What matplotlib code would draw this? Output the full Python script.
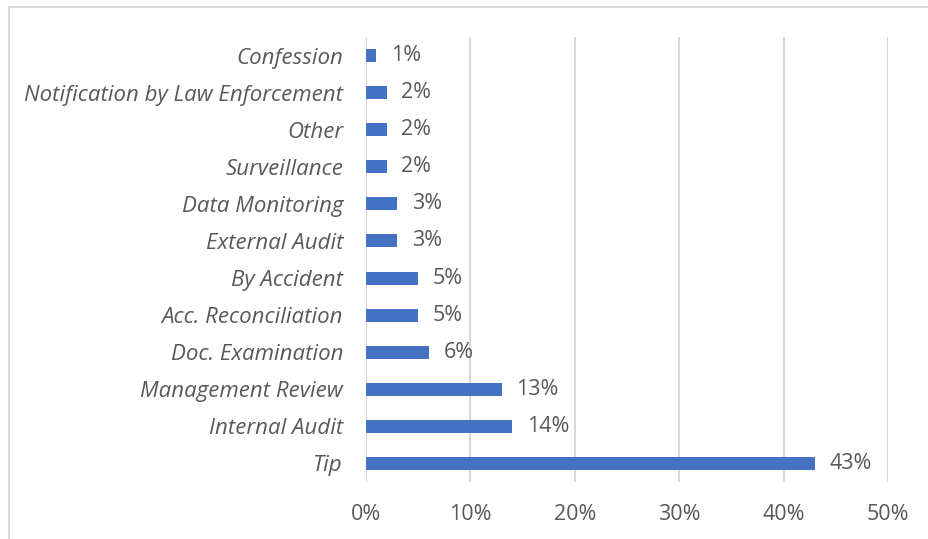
import matplotlib
matplotlib.use("Agg")
import matplotlib.pyplot as plt
from matplotlib.patches import Rectangle

# detection methods, bottom to top as drawn
categories = ["Tip", "Internal Audit", "Management Review", "Doc. Examination",
              "Acc. Reconciliation", "By Accident", "External Audit",
              "Data Monitoring", "Surveillance", "Other",
              "Notification by Law Enforcement", "Confession"]
values = [43, 14, 13, 6, 5, 5, 3, 3, 2, 2, 2, 1]
ticks = [0, 10, 20, 30, 40, 50]
tick_labels = ["0%", "10%", "20%", "30%", "40%", "50%"]

bar_color = "#4472C4"
text_color = "#595959"
grid_color = "#D9D9D9"
font = "Open Sans"

fig = plt.figure(figsize=(9.29, 5.39), dpi=100)
ax = fig.add_axes([366 / 929, 1 - 482 / 539, 522 / 929, 445 / 539])

y = range(len(categories))
ax.barh(y, values, height=0.35, color=bar_color, zorder=3)
for yi, v in zip(y, values):
    ax.text(v + 1.4, yi, f"{v}%", va="center", ha="left",
            fontsize=15.5, color=text_color, family=font)

ax.set_xlim(0, 50)
ax.set_ylim(-0.5, len(categories) - 0.5)
ax.set_xticks(ticks)
ax.set_xticklabels(tick_labels, family=font, fontsize=15.5, color=text_color)
ax.set_yticks(list(y))
ax.set_yticklabels(categories, family=font, fontsize=16, color=text_color,
                   style="italic")
ax.tick_params(axis="both", length=0)
ax.tick_params(axis="x", pad=16)
ax.tick_params(axis="y", pad=16.5)
ax.grid(axis="x", color=grid_color, linewidth=1.5, zorder=0)
for s in ax.spines.values():
    s.set_visible(False)

# outer chart border (only top and left are in frame)
fig.add_artist(Rectangle((8.5 / 929, -0.1), 1.2, 1.1 - 7.5 / 539,
                         transform=fig.transFigure, fill=False,
                         edgecolor=grid_color, linewidth=1.5))

fig.savefig("out.png", dpi=100)
